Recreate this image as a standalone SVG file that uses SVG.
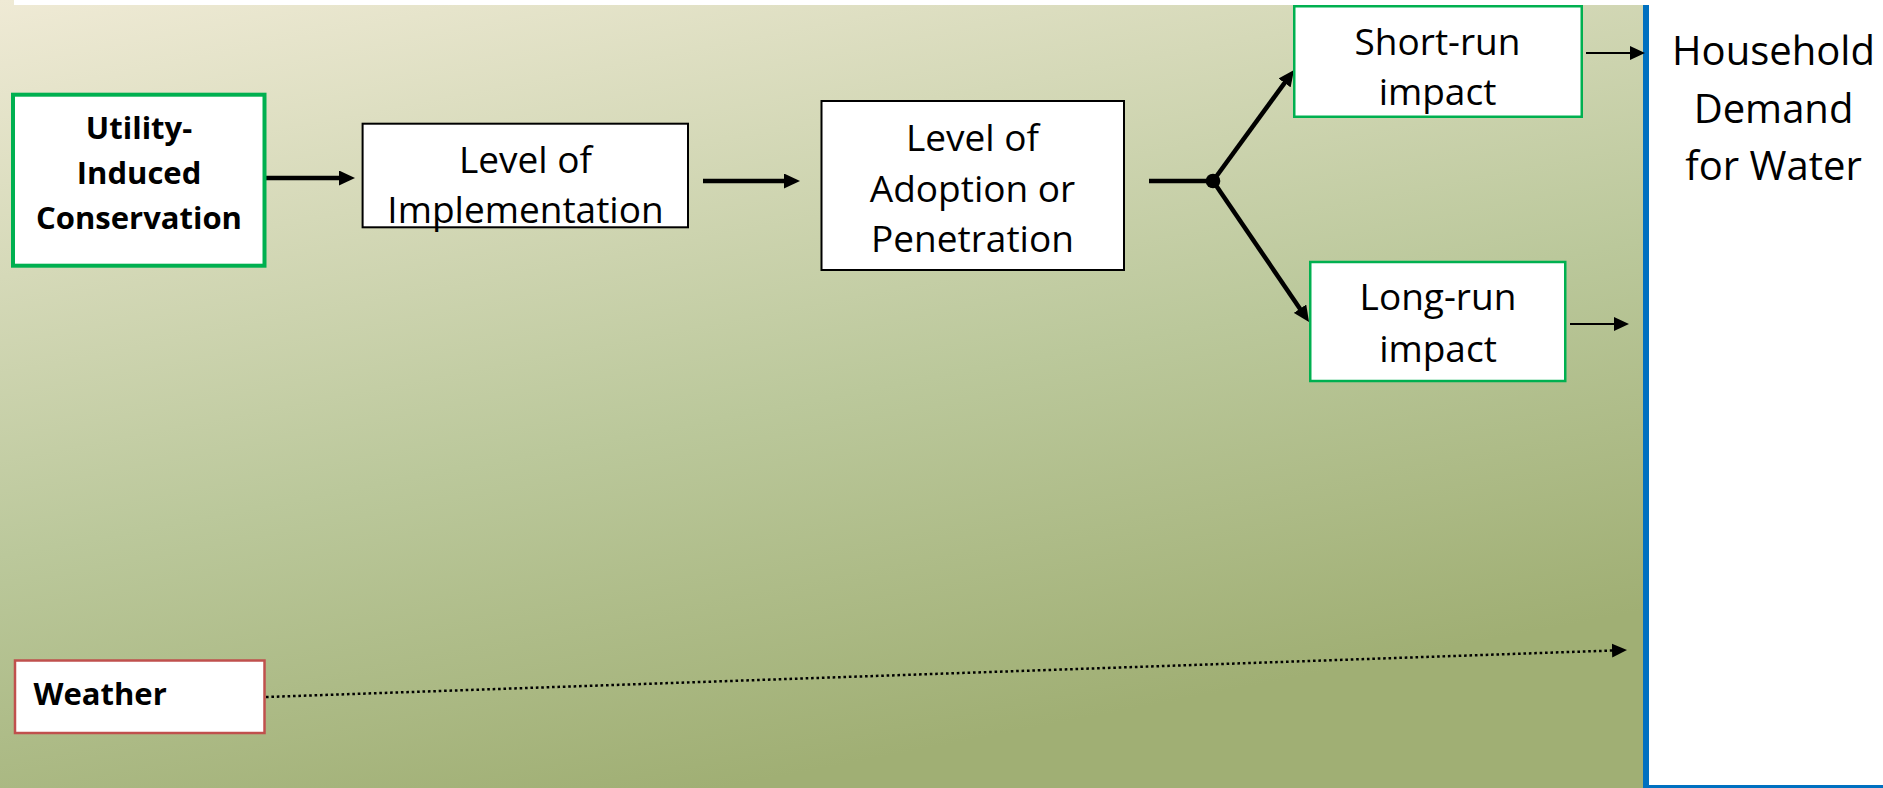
<svg xmlns="http://www.w3.org/2000/svg" width="1883" height="788" viewBox="0 0 1883 788">
  <style>
    .box { fill: #FFFFFF; }
    .black { stroke: #000000; stroke-width: 2; }
    .green-thick { stroke: #00B050; stroke-width: 4; }
    .green { stroke: #00B050; stroke-width: 2.5; }
    .red { stroke: #C0504D; stroke-width: 2.5; }
    .lbl { font-family: "Open Sans", "Liberation Sans", sans-serif; font-size: 37px; fill: #000000; text-anchor: middle; }
    .bold { font-family: "Open Sans", "Liberation Sans", sans-serif; font-size: 31px; font-weight: bold; fill: #000000; text-anchor: middle; }
    .big { font-family: "Open Sans", "Liberation Sans", sans-serif; font-size: 40px; fill: #000000; text-anchor: middle; }
    .thick { stroke: #000000; stroke-width: 4.5; fill: none; }
    .thin { stroke: #000000; stroke-width: 2; fill: none; }
    .dotted { stroke: #000000; stroke-width: 2.5; fill: none; stroke-dasharray: 2.6 2.8; }
  </style>
  <defs>
    <linearGradient id="bg" gradientUnits="userSpaceOnUse" x1="0" y1="0" x2="172" y2="894">
      <stop offset="0" stop-color="#EFEAD5"/>
      <stop offset="0.6" stop-color="#BBC89B"/>
      <stop offset="1" stop-color="#A0AF74"/>
    </linearGradient>
    <marker id="headThick" markerUnits="userSpaceOnUse" markerWidth="16" markerHeight="15" refX="6" refY="7.5" orient="auto">
      <path d="M0,0 L16,7.5 L0,15 z" fill="#000000"/>
    </marker>
    <marker id="headThin" markerUnits="userSpaceOnUse" markerWidth="15" markerHeight="14" refX="5" refY="7" orient="auto">
      <path d="M0,0 L15,7 L0,14 z" fill="#000000"/>
    </marker>
  </defs>

  <g id="background">
    <rect x="0" y="0" width="1646" height="788" fill="url(#bg)"/>
    <rect x="1646" y="-10" width="400" height="798" fill="#FFFFFF" stroke="#0070C0" stroke-width="6"/>
    <rect x="14" y="0" width="1869" height="5" fill="#FFFFFF"/>
  </g>

  <g id="connectors">
    <path class="thick" d="M266,178 H345" marker-end="url(#headThick)"/>
    <path class="thick" d="M703,181 H790" marker-end="url(#headThick)"/>
    <path class="thick" d="M1149,181 H1213"/>
    <circle cx="1213" cy="181" r="7.3" fill="#000000"/>
    <path class="thick" d="M1213,181 L1288.1,78.1" marker-end="url(#headThick)"/>
    <path class="thick" d="M1213,181 L1303.4,313.7" marker-end="url(#headThick)"/>
    <path class="thin" d="M1586,53 H1635" marker-end="url(#headThin)"/>
    <path class="thin" d="M1570,324 H1619" marker-end="url(#headThin)"/>
    <path class="dotted" d="M266,697 L1617,650.35" marker-end="url(#headThin)"/>
  </g>

  <g id="utility">
    <rect class="box green-thick" x="13" y="94.7" width="251.5" height="171"/>
    <text class="bold" x="139" y="139">Utility-</text>
    <text class="bold" x="139" y="184">Induced</text>
    <text class="bold" x="139" y="229">Conservation</text>
  </g>

  <g id="implementation">
    <rect class="box black" x="362.6" y="123.7" width="325.4" height="103.6"/>
    <text class="lbl" x="525.5" y="172.7">Level of</text>
    <text class="lbl" x="525.5" y="222.7">Implementation</text>
  </g>

  <g id="adoption">
    <rect class="box black" x="821.5" y="101" width="302.5" height="169"/>
    <text class="lbl" x="972.5" y="150.7">Level of</text>
    <text class="lbl" x="972.5" y="201.7">Adoption or</text>
    <text class="lbl" x="972.5" y="252.3">Penetration</text>
  </g>

  <g id="short-run">
    <rect class="box green" x="1294.25" y="6.25" width="287.5" height="110.5"/>
    <text class="lbl" x="1437.5" y="55">Short-run</text>
    <text class="lbl" x="1437.5" y="105">impact</text>
  </g>

  <g id="long-run">
    <rect class="box green" x="1310.25" y="262" width="255" height="119"/>
    <text class="lbl" x="1438" y="310">Long-run</text>
    <text class="lbl" x="1438" y="361.7">impact</text>
  </g>

  <g id="household">
    <text class="big" x="1773.5" y="65">Household</text>
    <text class="big" x="1773.5" y="122.7">Demand</text>
    <text class="big" x="1773.5" y="180">for Water</text>
  </g>

  <g id="weather">
    <rect class="box red" x="15" y="660.5" width="249.5" height="72.5"/>
    <text class="bold" x="33.5" y="705" style="text-anchor:start">Weather</text>
  </g>
</svg>
